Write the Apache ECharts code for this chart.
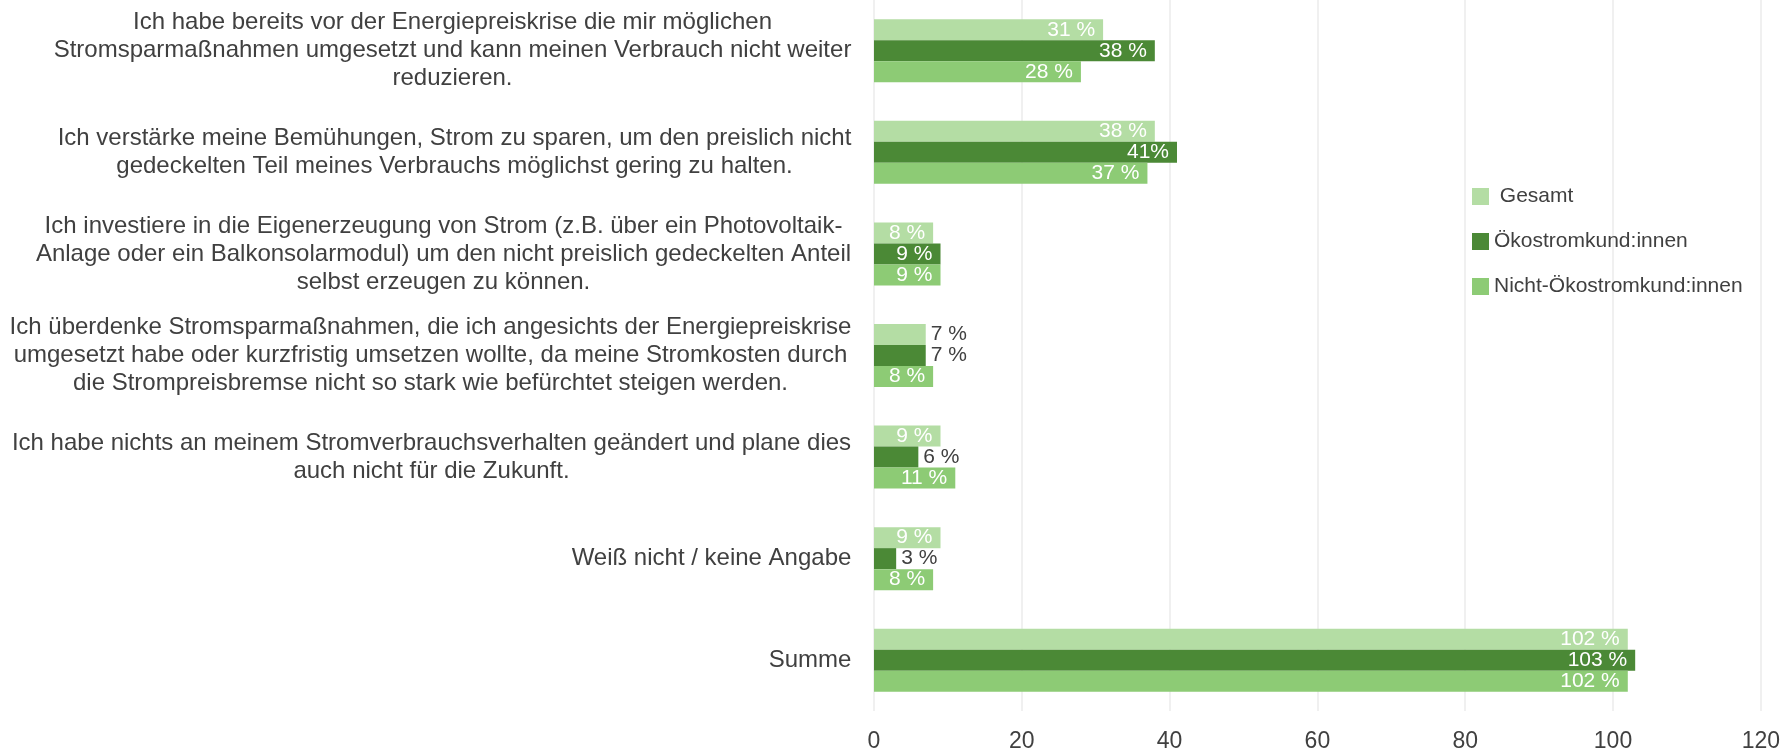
<!DOCTYPE html>
<html>
<head>
<meta charset="utf-8">
<script src="https://cdn.jsdelivr.net/npm/echarts@6/dist/echarts.min.js"></script>
<style>
  html, body { margin: 0; padding: 0; background: #fff; }
  #chart { width: 1783px; height: 753px; }
</style>
</head>
<body>
<div id="chart"></div>
<script>
var categories = [
  'Ich habe bereits vor der Energiepreiskrise die mir möglichen\nStromsparmaßnahmen umgesetzt und kann meinen Verbrauch nicht weiter\nreduzieren.',
  'Ich verstärke meine Bemühungen, Strom zu sparen, um den preislich nicht\ngedeckelten Teil meines Verbrauchs möglichst gering zu halten.',
  'Ich investiere in die Eigenerzeugung von Strom (z.B. über ein Photovoltaik-\nAnlage oder ein Balkonsolarmodul) um den nicht preislich gedeckelten Anteil\nselbst erzeugen zu können.',
  'Ich überdenke Stromsparmaßnahmen, die ich angesichts der Energiepreiskrise\numgesetzt habe oder kurzfristig umsetzen wollte, da meine Stromkosten durch\ndie Strompreisbremse nicht so stark wie befürchtet steigen werden.',
  'Ich habe nichts an meinem Stromverbrauchsverhalten geändert und plane dies\nauch nicht für die Zukunft.',
  'Weiß nicht / keine Angabe',
  'Summe'
];
var seriesNames = ['Gesamt', 'Ökostromkund:innen', 'Nicht-Ökostromkund:innen'];
var gesamt = [31, 38, 8, 7, 9, 9, 102];
var oeko = [38, 41, 9, 7, 6, 3, 103];
var nichtOeko = [28, 37, 9, 8, 11, 8, 102];
var xTicks = [0, 20, 40, 60, 80, 100, 120];

var colors = ['#b4dda4', '#4b8936', '#8dcb75'];
var textColor = '#404040';
var font = '"Liberation Sans", Arial, sans-serif';

// width of each multi-line label, so lines can be centred inside a right-aligned block
var ctx = document.createElement('canvas').getContext('2d');
ctx.font = '24px ' + font;
var rich = {};
categories.forEach(function (c, i) {
  var w = 0;
  c.split('\n').forEach(function (line) {
    w = Math.max(w, ctx.measureText(line).width);
  });
  rich['l' + i] = {
    width: Math.ceil(w) + 1, align: 'center',
    fontSize: 24, lineHeight: 28, color: textColor, fontFamily: font
  };
});

function barData(values) {
  return values.map(function (v) {
    if (v < 8) {
      return {value: v, label: {position: 'right', distance: 5, color: textColor}};
    }
    return v;
  });
}

var chart = echarts.init(document.getElementById('chart'));
var option = {
  animation: false,
  color: colors,
  grid: {left: 874, right: 21, top: -3, bottom: 39, containLabel: false},
  legend: {
    orient: 'vertical',
    left: 1467, top: 181,
    itemWidth: 17, itemHeight: 17, itemGap: 24,
    icon: 'rect',
    data: seriesNames,
    formatter: function (name) { return name === 'Gesamt' ? ' ' + name : name; },
    textStyle: {fontSize: 21, lineHeight: 21, color: textColor, fontFamily: font}
  },
  xAxis: {
    type: 'value', min: xTicks[0], max: xTicks[xTicks.length - 1], interval: 20,
    axisLine: {show: false}, axisTick: {show: false},
    splitLine: {show: true, lineStyle: {color: '#ebebeb', width: 1.5}},
    axisLabel: {fontSize: 23, color: textColor, fontFamily: font, margin: 19}
  },
  yAxis: {
    type: 'category', inverse: true, data: categories,
    axisLine: {show: false}, axisTick: {show: false},
    axisLabel: {
      margin: 22, align: 'right',
      formatter: function (v, i) { return '{l' + i + '|' + v + '}'; },
      rich: rich
    }
  },
  series: [gesamt, oeko, nichtOeko].map(function (vals, i) {
    return {
      name: seriesNames[i], type: 'bar',
      barWidth: 21, barGap: '0%',
      data: barData(vals),
      label: {
        show: true, position: 'insideRight', distance: 8,
        formatter: function (p) { return (p.value === 41 ? '41%' : p.value + ' %'); },
        color: '#fff', fontSize: 21, fontFamily: font
      }
    };
  })
};
chart.setOption(option);
</script>
</body>
</html>
